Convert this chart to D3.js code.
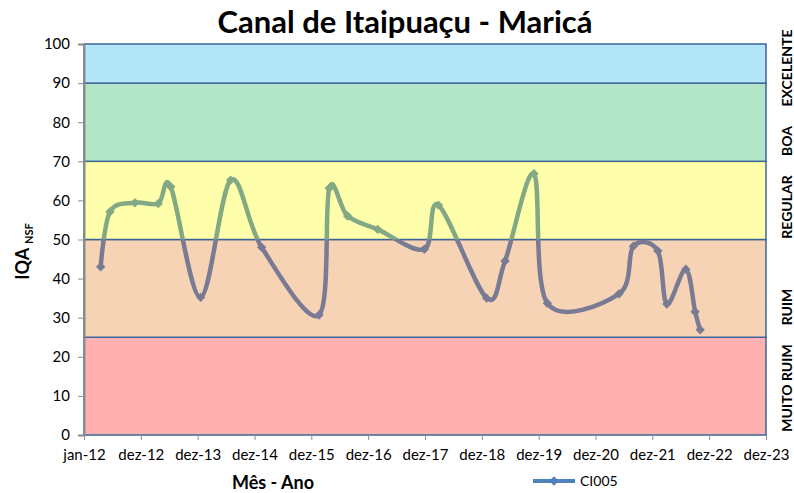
<!DOCTYPE html>
<html>
<head>
<meta charset="utf-8">
<style>
  body { margin: 0; background: #fff; }
  text { font-family: Lato, "Open Sans", sans-serif; fill: #000; }
</style>
</head>
<body>
<div id="chart"></div>
<script src="https://cdn.jsdelivr.net/npm/d3@7"></script>
<script>
// sample dates and IQA values
const dates = ["2012-04-17","2012-06-16","2012-11-23","2013-04-22","2013-07-11","2014-01-19",
  "2014-07-31","2015-02-15","2016-02-18","2016-04-24","2016-08-20","2017-03-01",
  "2017-12-26","2018-03-26","2019-01-30","2019-05-28","2019-11-30","2020-02-24",
  "2021-05-29","2021-08-29","2022-02-02","2022-04-01","2022-08-01","2022-09-30","2022-11-01"];
const iqa = [43.0, 57.1, 59.4, 59.2, 63.5, 35.2, 65.2, 48.0, 30.7, 63.1, 56.0, 52.6,
  47.5, 58.8, 35.0, 44.5, 66.8, 33.7, 36.1, 48.3, 47.1, 33.5, 42.4, 31.5, 26.9];

// x axis ticks: every 365 days from 1 jan 2012
const tickDates = ["2012-01-01","2012-12-31","2013-12-31","2014-12-31","2015-12-31","2016-12-30",
  "2017-12-30","2018-12-30","2019-12-30","2020-12-29","2021-12-29","2022-12-29","2023-12-29"];
const tickLabels = ["jan-12","dez-12","dez-13","dez-14","dez-15","dez-16","dez-17",
  "dez-18","dez-19","dez-20","dez-21","dez-22","dez-23"];
const yTicks = [0, 10, 20, 30, 40, 50, 60, 70, 80, 90, 100];

// quality classes
const classNames = ["MUITO RUIM", "RUIM", "REGULAR", "BOA", "EXCELENTE"];
const classLow  = [0, 25, 50, 70, 90];
const classHigh = [25, 50, 70, 90, 100];
const classColors = ["#ffb1b1", "#f7d3b5", "#ffffab", "#b3e6c9", "#b3e6f8"];
const classLabelY = [388, 307, 207, 141, 68];

const W = 794, H = 493;
const m = {top: 44, right: 28, bottom: 58, left: 84};

const parse = d3.utcParse("%Y-%m-%d");
const data = dates.map((d, i) => ({date: parse(d), v: iqa[i]}));

const svg = d3.select("#chart").append("svg")
    .attr("width", W).attr("height", H);

const x = d3.scaleUtc()
    .domain([parse(tickDates[0]), parse(tickDates[tickDates.length - 1])])
    .range([m.left, W - m.right]);
const y = d3.scaleLinear().domain([0, 100]).range([H - m.bottom, m.top]);

// bands
svg.append("g").selectAll("rect")
  .data(classNames)
  .join("rect")
    .attr("x", x.range()[0])
    .attr("width", x.range()[1] - x.range()[0])
    .attr("y", (d, i) => y(classHigh[i]))
    .attr("height", (d, i) => y(classLow[i]) - y(classHigh[i]))
    .attr("fill", (d, i) => classColors[i])
    .attr("stroke", "#3e6499")
    .attr("stroke-width", 1.5);

// y axis
const yAxis = svg.append("g")
    .attr("transform", `translate(${m.left},0)`)
    .call(d3.axisLeft(y).tickValues(yTicks).tickSize(6).tickPadding(8));
yAxis.select(".domain").attr("stroke", "#8c8c8c").attr("stroke-width", 2);
yAxis.selectAll(".tick line").attr("stroke", "#8c8c8c");
yAxis.selectAll("text").style("font-size", "15px");

// x axis
const xAxis = svg.append("g")
    .attr("transform", `translate(0,${y(0)})`)
    .call(d3.axisBottom(x).tickValues(tickDates.map(parse))
      .tickFormat((d, i) => tickLabels[i]).tickSize(5).tickPadding(9));
xAxis.select(".domain").remove();
xAxis.selectAll(".tick line").attr("stroke", "#8c8c8c");
xAxis.selectAll("text").style("font-size", "15px");

// series: drawn twice, coloured by the band it sits over
const line = d3.line().x(d => x(d.date)).y(d => y(d.v)).curve(d3.curveCardinal.tension(0));
const diamond = d3.symbol(d3.symbolSquare, 44);

const defs = svg.append("defs");
defs.append("clipPath").attr("id", "clipLow").append("rect")
    .attr("x", 0).attr("width", W).attr("y", y(50)).attr("height", H - y(50));
defs.append("clipPath").attr("id", "clipMid").append("rect")
    .attr("x", 0).attr("width", W).attr("y", y(70)).attr("height", y(50) - y(70));

[["clipLow", "#787b93"], ["clipMid", "#83a884"]].forEach(([id, col]) => {
  const g = svg.append("g").attr("clip-path", `url(#${id})`);
  g.append("path").datum(data)
      .attr("d", line)
      .attr("fill", "none")
      .attr("stroke", col)
      .attr("stroke-width", 4.5);
  g.selectAll(".mk").data(data).join("path")
      .attr("class", "mk")
      .attr("d", diamond)
      .attr("transform", d => `translate(${x(d.date)},${y(d.v)}) rotate(45)`)
      .attr("fill", col);
});

// right-hand class labels
svg.append("g").selectAll("text")
  .data(classNames)
  .join("text")
    .attr("transform", (d, i) => `translate(792,${classLabelY[i]}) rotate(-90)`)
    .attr("text-anchor", "middle")
    .style("font-size", "14px")
    .style("font-weight", "bold")
    .text(d => d);

// title
svg.append("text")
    .attr("x", 405).attr("y", 33)
    .attr("text-anchor", "middle")
    .style("font-size", "31px").style("font-weight", "bold")
    .text("Canal de Itaipuaçu - Maricá");

// axis titles
const yl = svg.append("text")
    .attr("transform", `translate(29,${(y(0) + y(100)) / 2 + 12}) rotate(-90)`)
    .attr("text-anchor", "middle")
    .style("font-size", "18px").style("font-weight", "bold");
yl.append("tspan").text("IQA ");
yl.append("tspan").attr("dy", 4).style("font-size", "11px").text("NSF");

svg.append("text")
    .attr("x", 273).attr("y", 489)
    .attr("text-anchor", "middle")
    .style("font-size", "18px").style("font-weight", "bold")
    .text("Mês - Ano");

// legend
const lg = svg.append("g").attr("transform", "translate(533,481)");
lg.append("line").attr("x1", 0).attr("x2", 42).attr("stroke", "#4f81bd").attr("stroke-width", 4);
lg.append("path").attr("d", diamond).attr("transform", "translate(21,0) rotate(45)").attr("fill", "#4f81bd");
lg.append("text").attr("x", 47).attr("y", 5).style("font-size", "14px").text("CI005");
</script>
</body>
</html>
